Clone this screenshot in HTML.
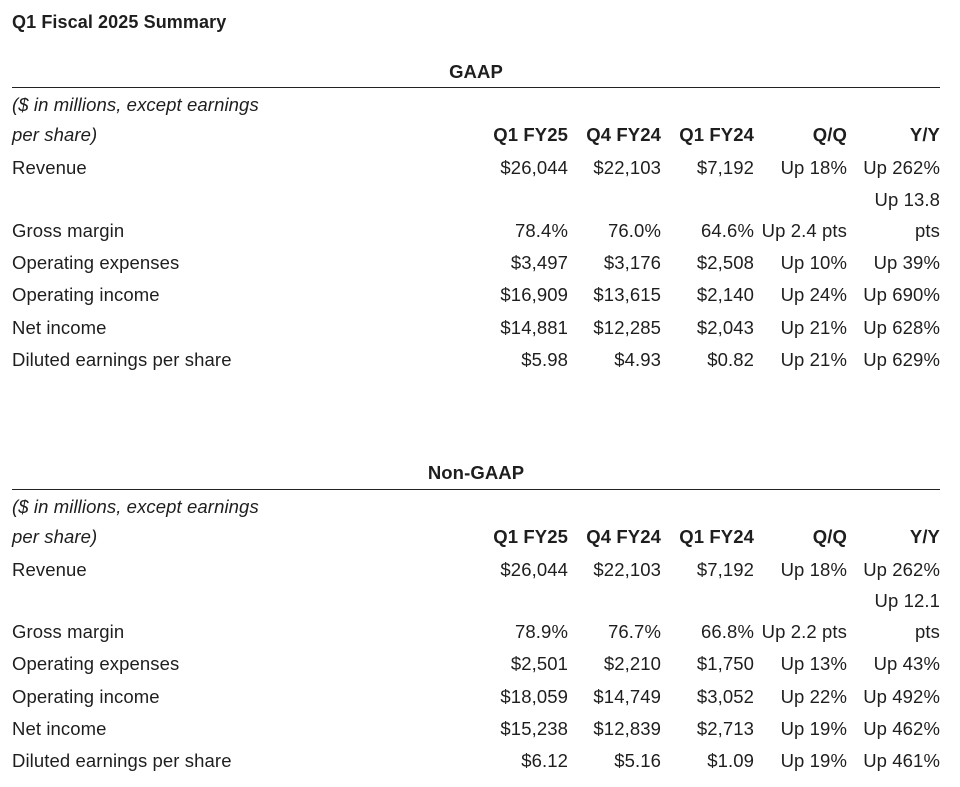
<!DOCTYPE html>
<html><head><meta charset="utf-8">
<style>
body{margin:0;width:960px;height:787px;background:#fff;position:relative;overflow:hidden;font-family:"Liberation Sans",sans-serif;color:#1e1e1e;}
.t{position:absolute;height:22px;line-height:22px;font-size:18.5px;white-space:nowrap;letter-spacing:0.1px;}
.r{text-align:right;}
.b{font-weight:bold;}
.i{font-style:italic;}
.rule{position:absolute;left:12px;width:928px;height:1px;background:#222;}
</style></head>
<body>
<div class="t b" style="left:12px;top:11px;font-size:18px;">Q1 Fiscal 2025 Summary</div>
<div id="root"></div>
<script>
const colRight=[568,661,754,847,940];
const headers=["Q1 FY25","Q4 FY24","Q1 FY24","Q/Q","Y/Y"];
const gaapLabels=["Revenue","Gross margin","Operating expenses","Operating income","Net income","Diluted earnings per share"];
const gaapRows=[
["$26,044","$22,103","$7,192","Up 18%","Up 262%"],
["78.4%","76.0%","64.6%","Up 2.4 pts","pts"],
["$3,497","$3,176","$2,508","Up 10%","Up 39%"],
["$16,909","$13,615","$2,140","Up 24%","Up 690%"],
["$14,881","$12,285","$2,043","Up 21%","Up 628%"],
["$5.98","$4.93","$0.82","Up 21%","Up 629%"]];
const nonGaapRows=[
["$26,044","$22,103","$7,192","Up 18%","Up 262%"],
["78.9%","76.7%","66.8%","Up 2.2 pts","pts"],
["$2,501","$2,210","$1,750","Up 13%","Up 43%"],
["$18,059","$14,749","$3,052","Up 22%","Up 492%"],
["$15,238","$12,839","$2,713","Up 19%","Up 462%"],
["$6.12","$5.16","$1.09","Up 19%","Up 461%"]];
const root=document.getElementById('root');
function txt(s,x,y,cls,right){
  const d=document.createElement('div');
  d.className='t '+(cls||'')+(right?' r':'');
  d.textContent=s;
  if(right){d.style.right=(960-x)+'px';}else{d.style.left=x+'px';}
  d.style.top=(y-10)+'px';
  root.appendChild(d);return d;
}
function section(title,yTitle,yLine,rowY,rows,extra,prefix){
  const h=txt(title,0,yTitle,'b');
  h.style.left='12px';h.style.width='928px';h.style.textAlign='center';
  
  
  const ln=document.createElement('div');ln.className='rule';ln.style.top=yLine+'px';root.appendChild(ln);
  
  
  const n1=txt('($ in millions, except earnings',12,rowY[0],'i');
  
  
  const n2=txt('per share)',12,rowY[1],'i');
  
  
  headers.forEach((s,j)=>{
    const e=txt(s,colRight[j],rowY[1],'b',true);
    
    
  });
  const ys=[rowY[2],rowY[4],rowY[5],rowY[6],rowY[7],rowY[8]];
  rows.forEach((r,i)=>{
    const l=txt(gaapLabels[i],12,ys[i]);
    
    
    r.forEach((s,j)=>{
      const c=txt(s,colRight[j],ys[i],'',true);
      
      
    });
  });
  const ex=txt(extra,colRight[4],rowY[3],'',true);
  
  
}
section('GAAP',71,87,[104,134,167,199,230,262,294,327,359],gaapRows,'Up 13.8','gaap');
section('Non-GAAP',472,489,[506,536,569,600,631,663,696,728,760],nonGaapRows,'Up 12.1','non-gaap');
</script>
</body></html>
